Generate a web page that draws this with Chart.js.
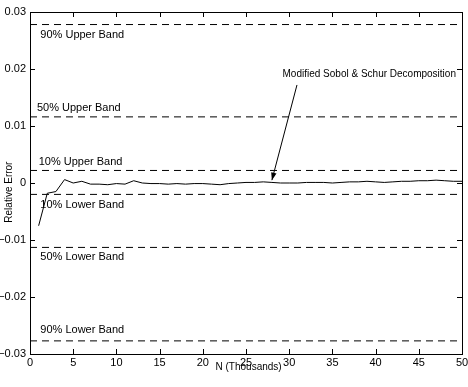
<!DOCTYPE html>
<html><head><meta charset="utf-8">
<script src="https://cdn.jsdelivr.net/npm/chart.js@4"></script>
<style>html,body{margin:0;padding:0;background:#fff}#wrap{width:468px;height:387px}</style>
</head><body><div id="wrap"><canvas id="c" width="468" height="387"></canvas></div>
<script>
const nThousands = [1,2,3,4,5,6,7,8,9,10,11,12,13,14,15,16,17,18,19,20,21,22,23,24,25,26,27,28,29,30,31,32,33,34,35,36,37,38,39,40,41,42,43,44,45,46,47,48,49,50];
const relError = [-0.0075,-0.0018,-0.0015,0.0006,0.0000,0.0003,-0.0002,-0.0002,-0.0003,-0.0001,-0.0002,0.0004,0.0000,-0.0001,-0.0001,-0.0002,-0.0001,-0.0002,-0.0001,-0.0001,-0.0002,-0.0003,-0.0001,0.0000,0.0001,0.0001,0.0002,0.0001,0.0000,0.0000,0.0000,0.0001,0.0001,0.0001,0.0000,0.0001,0.0002,0.0002,0.0003,0.0002,0.0001,0.0002,0.0003,0.0003,0.0004,0.0004,0.0005,0.0004,0.0003,0.0003];
const bandNames = ["90% Upper Band","50% Upper Band","10% Upper Band","10% Lower Band","50% Lower Band","90% Lower Band"];
const bandValues = [0.0278,0.0116,0.0022,-0.0020,-0.0113,-0.0277];
const xTicks = [0,5,10,15,20,25,30,35,40,45,50];
const yTicks = [-0.03,-0.02,-0.01,0,0.01,0.02,0.03];
const seriesName = "Modified Sobol & Schur Decomposition";

// label anchors in data units (x, y)
const bandLabelPos = [[1.2,0.0259],[0.8,0.0131],[1.0,0.0037],[1.2,-0.0038],[1.2,-0.0130],[1.2,-0.0258]];

const FONT = '11px "Liberation Sans", Arial, sans-serif';

const datasets = [{
  data: nThousands.map((x,i)=>({x:x,y:relError[i]})),
  borderColor:'#000', borderWidth:1, pointRadius:0, tension:0, fill:false
}];
bandValues.forEach(v=>{
  datasets.push({data:[{x:0,y:v},{x:50,y:v}],borderColor:'#000',borderWidth:1,borderDash:[7,5],pointRadius:0,fill:false});
});

const fmt = v => {
  if (Math.abs(v) < 1e-9) return '0';
  const s = Math.abs(v).toFixed(2);
  return (v<0?'\u2212':'') + s;
};

const deco = {
  id:'deco',
  afterDraw(chart){
    const ctx = chart.ctx, xs = chart.scales.x, ys = chart.scales.y, a = chart.chartArea;
    ctx.save();
    ctx.strokeStyle='#000'; ctx.lineWidth=1;
    ctx.strokeRect(Math.round(a.left)+0.5, Math.round(a.top)+0.5, Math.round(a.right-a.left), Math.round(a.bottom-a.top));
    ctx.beginPath();
    xTicks.forEach(t=>{
      const px = Math.round(xs.getPixelForValue(t))+0.5;
      ctx.moveTo(px,a.bottom); ctx.lineTo(px,a.bottom-5);
      ctx.moveTo(px,a.top); ctx.lineTo(px,a.top+5);
    });
    yTicks.forEach(t=>{
      const py = Math.round(ys.getPixelForValue(t))+0.5;
      ctx.moveTo(a.left,py); ctx.lineTo(a.left+5,py);
      ctx.moveTo(a.right,py); ctx.lineTo(a.right-5,py);
    });
    ctx.stroke();
    ctx.fillStyle='#000'; ctx.font=FONT;
    // tick labels
    ctx.textAlign='center'; ctx.textBaseline='top';
    xTicks.forEach(t=>ctx.fillText(String(t), xs.getPixelForValue(t), a.bottom+3));
    ctx.textAlign='right'; ctx.textBaseline='middle';
    yTicks.forEach(t=>ctx.fillText(fmt(t), a.left-4, ys.getPixelForValue(t)));
    // band labels
    ctx.textAlign='left'; ctx.textBaseline='middle';
    bandNames.forEach((n,i)=>ctx.fillText(n, xs.getPixelForValue(bandLabelPos[i][0]), ys.getPixelForValue(bandLabelPos[i][1])));
    // axis titles
    ctx.font='10px "Liberation Sans", Arial, sans-serif';
    ctx.textAlign='center'; ctx.textBaseline='middle';
    ctx.fillText('N (Thousands)', xs.getPixelForValue(25.3), a.bottom+13);
    ctx.save();
    ctx.translate(9, ys.getPixelForValue(-0.0016)); ctx.rotate(-Math.PI/2);
    ctx.fillText('Relative Error',0,0);
    ctx.restore();
    // annotation
    ctx.font='10px "Liberation Sans", Arial, sans-serif';
    ctx.textAlign='right'; ctx.textBaseline='middle';
    ctx.fillText(seriesName, xs.getPixelForValue(49.3), ys.getPixelForValue(0.0191));
    const x0 = xs.getPixelForValue(30.9), y0 = ys.getPixelForValue(0.0172);
    const x1 = xs.getPixelForValue(28.0), y1 = ys.getPixelForValue(0.0005);
    ctx.beginPath(); ctx.moveTo(x0,y0); ctx.lineTo(x1,y1); ctx.stroke();
    const ang = Math.atan2(y1-y0,x1-x0), L=8, w=0.35;
    ctx.beginPath(); ctx.moveTo(x1,y1);
    ctx.lineTo(x1-L*Math.cos(ang-w), y1-L*Math.sin(ang-w));
    ctx.lineTo(x1-L*Math.cos(ang+w), y1-L*Math.sin(ang+w));
    ctx.closePath(); ctx.fill();
    ctx.restore();
  }
};

new Chart(document.getElementById('c'), {
  type:'line',
  data:{datasets},
  options:{
    responsive:false, animation:false, devicePixelRatio:1,
    layout:{padding:{left:0,right:6,top:12,bottom:0}},
    plugins:{legend:{display:false},tooltip:{enabled:false}},
    scales:{
      x:{type:'linear',min:0,max:50,grid:{display:false},border:{display:false},
         ticks:{display:false},afterFit(s){s.height=33;}},
      y:{type:'linear',min:-0.03,max:0.03,grid:{display:false},border:{display:false},
         ticks:{display:false},afterFit(s){s.width=30;}}
    }
  },
  plugins:[deco]
});
</script></body></html>
